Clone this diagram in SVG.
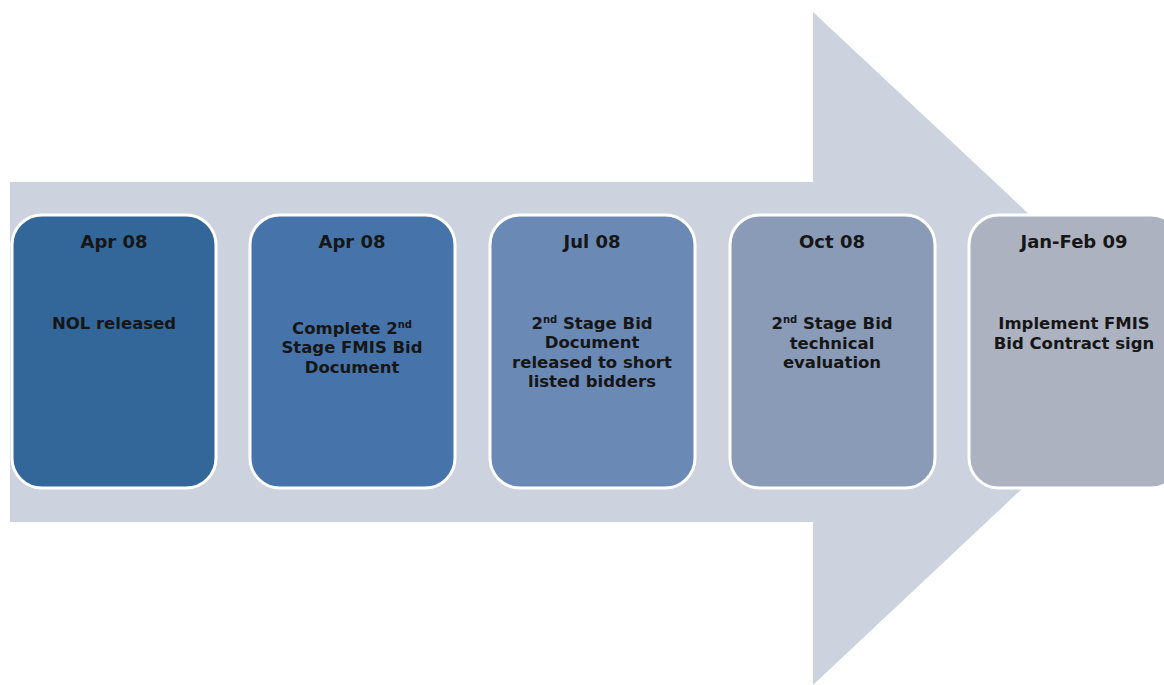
<svg xmlns="http://www.w3.org/2000/svg" width="1164" height="685" viewBox="0 0 1164 685">
  <style>
    .card { stroke: #ffffff; stroke-width: 3; }
    .lbl { font-family: "DejaVu Sans", Verdana, sans-serif; font-weight: bold; font-size: 16.5px; fill: #161616; text-anchor: middle; }
    .date { font-size: 18px; }
    .sup { font-size: 10px; }
  </style>
  <rect width="1164" height="685" fill="#ffffff"/>
  <!-- big background arrow -->
  <polygon points="10,182 813,182 813,12 1172,348 813,685 813,522 10,522" fill="#cdd3de"/>

  <g id="connectors"></g>

  <g id="step1">
    <rect class="card" x="12" y="215" width="204" height="273" rx="30" fill="#336699"/>
    <text class="lbl date" x="114" y="248">Apr 08</text>
    <text class="lbl" x="114" y="329">NOL released</text>
  </g>

  <g id="step2">
    <rect class="card" x="250" y="215" width="205" height="273" rx="30" fill="#4674aa"/>
    <text class="lbl date" x="352" y="248">Apr 08</text>
    <text class="lbl" x="352" y="334">Complete 2<tspan class="sup" dy="-6">nd</tspan></text>
    <text class="lbl" x="352" y="353">Stage FMIS Bid</text>
    <text class="lbl" x="352" y="373">Document</text>
  </g>

  <g id="step3">
    <rect class="card" x="490" y="215" width="205" height="273" rx="30" fill="#6a89b5"/>
    <text class="lbl date" x="592" y="248">Jul 08</text>
    <text class="lbl" x="592" y="329">2<tspan class="sup" dy="-6">nd</tspan><tspan dy="6"> Stage Bid</tspan></text>
    <text class="lbl" x="592" y="348">Document</text>
    <text class="lbl" x="592" y="368">released to short</text>
    <text class="lbl" x="592" y="387">listed bidders</text>
  </g>

  <g id="step4">
    <rect class="card" x="730" y="215" width="205" height="273" rx="30" fill="#8a9bb7"/>
    <text class="lbl date" x="832" y="248">Oct 08</text>
    <text class="lbl" x="832" y="329">2<tspan class="sup" dy="-6">nd</tspan><tspan dy="6"> Stage Bid</tspan></text>
    <text class="lbl" x="832" y="349">technical</text>
    <text class="lbl" x="832" y="368">evaluation</text>
  </g>

  <g id="step5">
    <rect class="card" x="969" y="215" width="212" height="273" rx="30" fill="#acb2c0"/>
    <text class="lbl date" x="1074" y="248">Jan-Feb 09</text>
    <text class="lbl" x="1074" y="329">Implement FMIS</text>
    <text class="lbl" x="1074" y="349">Bid Contract sign</text>
  </g>
</svg>
